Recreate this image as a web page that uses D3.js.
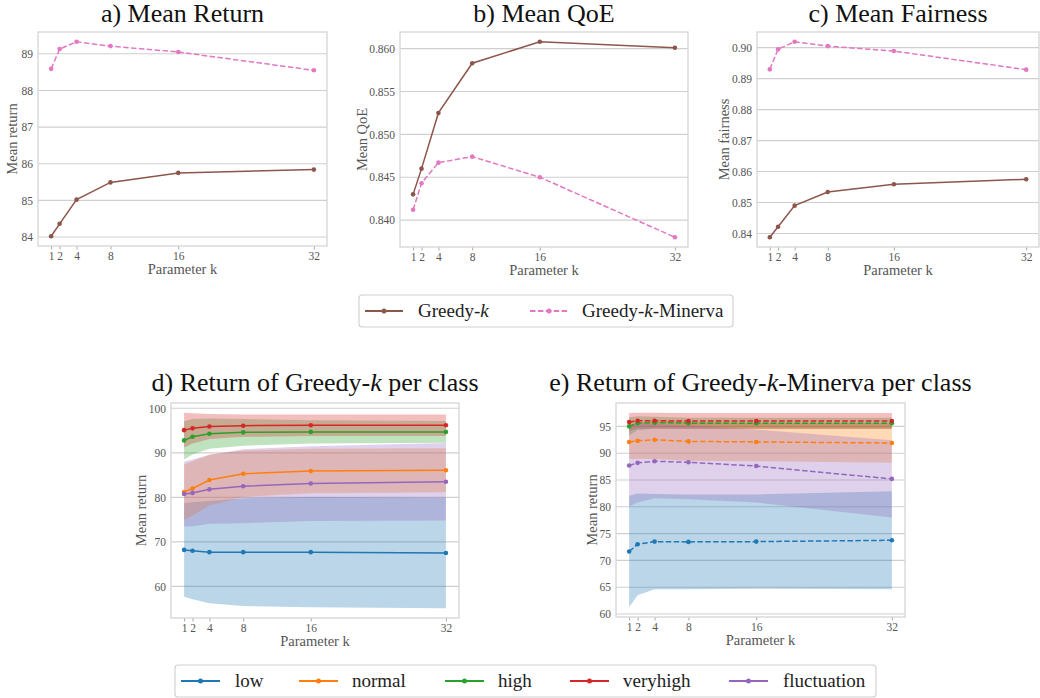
<!DOCTYPE html>
<html><head><meta charset="utf-8">
<script src="https://cdn.jsdelivr.net/npm/d3@7"></script>
<style>
html,body{margin:0;padding:0;background:#fff;}
</style></head>
<body><svg id="chart" width="1040" height="698"></svg>
<script>
// ---------- data ----------
const kValues = [1, 2, 4, 8, 16, 32];
const xTicks = [1, 2, 4, 8, 16, 32];

const greedyReturn  = [84.02, 84.36, 85.02, 85.49, 85.75, 85.84];
const minervaReturn = [88.59, 89.13, 89.33, 89.21, 89.05, 88.55];
const greedyQoE     = [0.8430, 0.8460, 0.8525, 0.8583, 0.8608, 0.8601];
const minervaQoE    = [0.8412, 0.8443, 0.8467, 0.8474, 0.8450, 0.8380];
const greedyFair    = [0.8388, 0.8422, 0.8490, 0.8534, 0.8559, 0.8575];
const minervaFair   = [0.8930, 0.8995, 0.9019, 0.9005, 0.8989, 0.8929];

const returnTicks   = [84, 85, 86, 87, 88, 89];
const qoeTicks      = [0.840, 0.845, 0.850, 0.855, 0.860];
const fairTicks     = [0.84, 0.85, 0.86, 0.87, 0.88, 0.89, 0.90];
const dTicks        = [60, 70, 80, 90, 100];
const eTicks        = [60, 65, 70, 75, 80, 85, 90, 95];

const classes = ["low", "normal", "high", "veryhigh", "fluctuation"];
const classColors = ["#1f77b4", "#ff7f0e", "#2ca02c", "#d62728", "#9467bd"];

// Greedy-k per class: mean and std
const greedyClassMean = [
  [68.2, 68.0, 67.7, 67.7, 67.7, 67.5],
  [81.2, 82.0, 83.9, 85.3, 85.9, 86.1],
  [92.8, 93.6, 94.3, 94.6, 94.7, 94.7],
  [95.1, 95.5, 95.9, 96.1, 96.2, 96.2],
  [80.75, 81.0, 81.8, 82.5, 83.1, 83.5]
];
const greedyClassStd = [
  [10.5, 10.9, 11.5, 12.1, 12.4, 12.4],
  [6.2, 6.1, 5.7, 5.2, 5.0, 4.95],
  [4.3, 4.0, 3.4, 3.0, 2.6, 2.45],
  [3.9, 3.4, 2.8, 2.5, 2.4, 2.4],
  [7.3, 7.5, 7.7, 8.3, 8.4, 8.7]
];
// Greedy-k-Minerva per class: mean and std
const minervaClassMean = [
  [71.65, 73.0, 73.5, 73.45, 73.5, 73.75],
  [92.1, 92.3, 92.5, 92.2, 92.1, 91.9],
  [95.0, 95.6, 95.7, 95.6, 95.6, 95.6],
  [95.8, 96.05, 96.05, 96.0, 96.0, 96.0],
  [87.7, 88.2, 88.5, 88.3, 87.6, 85.2]
];
const minervaClassStd = [
  [10.4, 9.5, 8.9, 8.85, 8.8, 9.15],
  [3.2, 3.4, 3.6, 3.6, 3.6, 3.7],
  [1.7, 1.3, 1.1, 1.0, 1.0, 1.0],
  [1.7, 1.5, 1.5, 1.5, 1.5, 1.5],
  [7.65, 7.4, 6.9, 6.9, 6.8, 7.2]
];

const BROWN = "#8c564b", PINK = "#e377c2";
const DASH = "5.5,2.4";

// ---------- drawing ----------
const SERIF = "'Liberation Serif', 'DejaVu Serif', 'Times New Roman', Times, serif";
const svg = d3.select("#chart").attr("font-family", SERIF);
const FONT_TICK = 11.5, FONT_LABEL = 14.5, FONT_TITLE = 26;
const TICK_COLOR = "#555";

function pad(lo, hi) { const m = (hi - lo) * 0.05; return [lo - m, hi + m]; }

function panel(cfg) {
  const g = svg.append("g");
  const xd = pad(d3.min(kValues), d3.max(kValues));
  const x = d3.scaleLinear().domain(xd).range([cfg.x0, cfg.x1]);
  const y = d3.scaleLinear().domain(pad(cfg.yMin, cfg.yMax)).range([cfg.y1, cfg.y0]);

  g.selectAll(".grid").data(cfg.yTicks).enter().append("line")
    .attr("x1", cfg.x0).attr("x2", cfg.x1)
    .attr("y1", d => y(d)).attr("y2", d => y(d))
    .attr("stroke", "#cfcfcf").attr("stroke-width", 1.1);

  const yAxis = d3.axisLeft(y).tickValues(cfg.yTicks).tickFormat(cfg.fmt).tickSize(0).tickPadding(5);
  const ya = g.append("g").attr("transform", `translate(${cfg.x0},0)`).call(yAxis);
  ya.attr("font-family", SERIF);
  ya.select(".domain").remove();
  ya.selectAll("text").attr("font-size", FONT_TICK).attr("fill", TICK_COLOR).attr("font-family", SERIF);

  const xAxis = d3.axisBottom(x).tickValues(xTicks).tickFormat(d3.format("d")).tickSize(3.5).tickPadding(2.5);
  const xa = g.append("g").attr("transform", `translate(0,${cfg.y1})`).call(xAxis);
  xa.attr("font-family", SERIF);
  xa.select(".domain").remove();
  xa.selectAll("line").attr("stroke", "#aaa");
  xa.selectAll("text").attr("font-size", FONT_TICK).attr("fill", TICK_COLOR).attr("font-family", SERIF);

  cfg.draw(g, x, y);

  g.append("rect").attr("x", cfg.x0).attr("y", cfg.y0)
    .attr("width", cfg.x1 - cfg.x0).attr("height", cfg.y1 - cfg.y0)
    .attr("fill", "none").attr("stroke", "#d4d4d4").attr("stroke-width", 1.3);

  g.append("text").attr("x", (cfg.x0 + cfg.x1) / 2).attr("y", cfg.y1 + 28).attr("font-family", SERIF)
    .attr("text-anchor", "middle").attr("font-size", FONT_LABEL).attr("fill", TICK_COLOR).text("Parameter k");
  g.append("text").attr("transform", `translate(${cfg.x0 - cfg.ylabOff},${(cfg.y0 + cfg.y1) / 2}) rotate(-90)`)
    .attr("font-family", SERIF)
    .attr("text-anchor", "middle").attr("font-size", FONT_LABEL).attr("fill", TICK_COLOR).text(cfg.ylabel);

  const t = g.append("text").attr("x", (cfg.x0 + cfg.x1) / 2).attr("y", cfg.titleY).attr("font-family", SERIF)
    .attr("text-anchor", "middle").attr("font-size", FONT_TITLE).attr("fill", "#111");
  cfg.title.forEach(p => t.append("tspan").attr("font-style", p[1] ? "italic" : "normal").text(p[0]));
}

function series(g, x, y, vals, color, dashed) {
  const line = d3.line().x((d, i) => x(kValues[i])).y(d => y(d));
  g.append("path").datum(vals).attr("d", line).attr("fill", "none")
    .attr("stroke", color).attr("stroke-width", 1.5)
    .attr("stroke-dasharray", dashed ? DASH : null);
  g.selectAll(null).data(vals).enter().append("circle")
    .attr("cx", (d, i) => x(kValues[i])).attr("cy", d => y(d)).attr("r", 2.3).attr("fill", color);
}

function pairPanel(x0, x1, y0, y1, gv, mv, ticks, fmt, ylabel, ylabOff, title) {
  const all = gv.concat(mv);
  panel({x0, x1, y0, y1, yMin: d3.min(all), yMax: d3.max(all), yTicks: ticks, fmt, ylabel, ylabOff,
    title, titleY: 22,
    draw: (g, x, y) => { series(g, x, y, gv, BROWN, false); series(g, x, y, mv, PINK, true); }});
}

pairPanel(38, 327, 32, 246, greedyReturn, minervaReturn, returnTicks, d3.format("d"), "Mean return", 21, [["a) Mean Return", false]]);
pairPanel(400, 688, 32, 247, greedyQoE, minervaQoE, qoeTicks, d3.format(".3f"), "Mean QoE", 33, [["b) Mean QoE", false]]);
pairPanel(757, 1039, 32, 247, greedyFair, minervaFair, fairTicks, d3.format(".2f"), "Mean fairness", 28, [["c) Mean Fairness", false]]);

function classPanel(x0, x1, y0, y1, means, stds, ticks, dashed, ylabOff, title) {
  let lo = Infinity, hi = -Infinity;
  means.forEach((m, c) => m.forEach((v, i) => { lo = Math.min(lo, v - stds[c][i]); hi = Math.max(hi, v + stds[c][i]); }));
  panel({x0, x1, y0, y1, yMin: lo, yMax: hi, yTicks: ticks, fmt: d3.format("d"), ylabel: "Mean return", ylabOff,
    title, titleY: 391,
    draw: (g, x, y) => {
      const area = d3.area().x(d => x(d.k)).y0(d => y(d.m - d.s)).y1(d => y(d.m + d.s));
      means.forEach((m, c) => {
        const pts = m.map((v, i) => ({k: kValues[i], m: v, s: stds[c][i]}));
        g.append("path").datum(pts).attr("d", area).attr("fill", classColors[c]).attr("fill-opacity", 0.3);
      });
      means.forEach((m, c) => series(g, x, y, m, classColors[c], dashed));
    }});
}

classPanel(171, 459, 403, 618, greedyClassMean, greedyClassStd, dTicks, false, 25,
  [["d) Return of Greedy-", false], ["k", true], [" per class", false]]);
classPanel(616, 905, 403, 617, minervaClassMean, minervaClassStd, eTicks, true, 19,
  [["e) Return of Greedy-", false], ["k", true], ["-Minerva per class", false]]);

function legend(box, items, fontSize) {
  const g = svg.append("g");
  g.append("rect").attr("x", box.x).attr("y", box.y).attr("width", box.w).attr("height", box.h)
    .attr("rx", 3).attr("fill", "#fff").attr("stroke", "#cfcfcf").attr("stroke-width", 1.1);
  const cy = box.y + box.h / 2;
  items.forEach(it => {
    g.append("line").attr("x1", it.lx).attr("x2", it.lx + it.lw).attr("y1", cy).attr("y2", cy)
      .attr("stroke", it.color).attr("stroke-width", 1.8).attr("stroke-dasharray", it.dashed ? DASH : null);
    g.append("circle").attr("cx", it.lx + it.lw / 2).attr("cy", cy).attr("r", 2.5).attr("fill", it.color);
    const t = g.append("text").attr("x", it.tx).attr("y", cy + fontSize * 0.33).attr("font-size", fontSize)
      .attr("font-family", SERIF).attr("fill", "#222");
    it.label.forEach(p => t.append("tspan").attr("font-style", p[1] ? "italic" : "normal").text(p[0]));
  });
}

legend({x: 359, y: 295, w: 374, h: 32}, [
  {lx: 365, lw: 38, tx: 418, color: BROWN, dashed: false, label: [["Greedy-", false], ["k", true]]},
  {lx: 530, lw: 38, tx: 582, color: PINK, dashed: true, label: [["Greedy-", false], ["k", true], ["-Minerva", false]]}
], 19);

const legendX = [[181, 235], [299, 352], [445, 498], [570, 623], [729, 783]];
legend({x: 175, y: 665, w: 701, h: 32}, classes.map((c, i) => ({
  lx: legendX[i][0], lw: 39, tx: legendX[i][1], color: classColors[i], dashed: false, label: [[c, false]]
})), 19);
</script></body></html>
